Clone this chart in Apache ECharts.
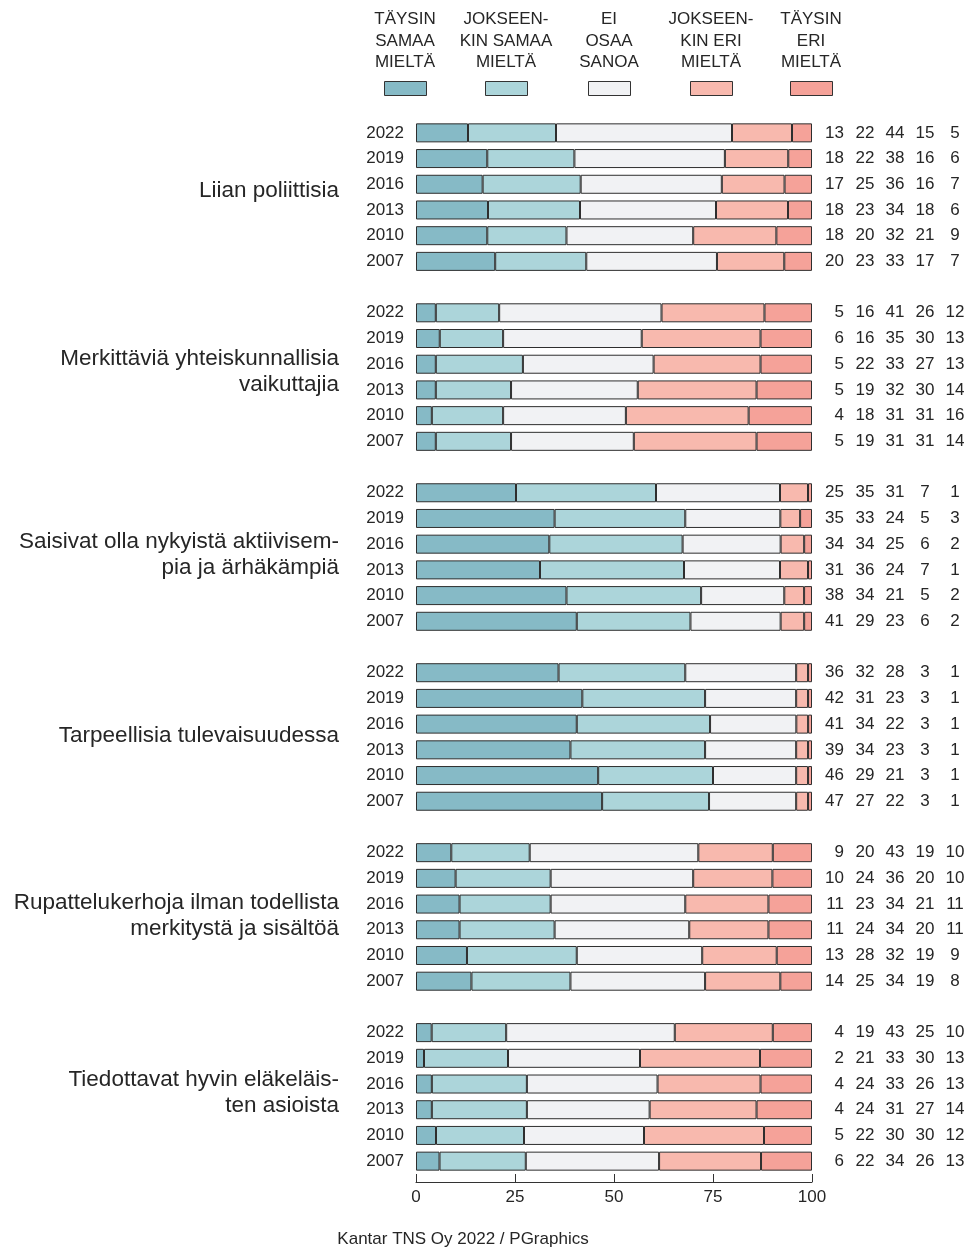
<!DOCTYPE html>
<html>
<head>
<meta charset="utf-8">
<script src="https://cdn.jsdelivr.net/npm/echarts@6/dist/echarts.min.js"></script>
<style>
  html, body { margin: 0; padding: 0; background: #fff; }
  #chart { width: 972px; height: 1248px; }
</style>
</head>
<body>
<div id="chart"></div>
<script>
// väittämät (ryhmät) ja vuodet
const groups = [
  'Liian poliittisia',
  'Merkittäviä yhteiskunnallisia\nvaikuttajia',
  'Saisivat olla nykyistä aktiivisem-\npia ja ärhäkämpiä',
  'Tarpeellisia tulevaisuudessa',
  'Rupattelukerhoja ilman todellista\nmerkitystä ja sisältöä',
  'Tiedottavat hyvin eläkeläis-\nten asioista'
]
const years = ['2022', '2019', '2016', '2013', '2010', '2007']
const answerLabels = [
  'TÄYSIN\nSAMAA\nMIELTÄ',
  'JOKSEEN-\nKIN SAMAA\nMIELTÄ',
  'EI\nOSAA\nSANOA',
  'JOKSEEN-\nKIN ERI\nMIELTÄ',
  'TÄYSIN\nERI\nMIELTÄ'
]
const xTicks = [0, 25, 50, 75, 100]

// prosentit, ryhmä kerrallaan (2022 ... 2007)
const taysinSamaa = [
  13, 18, 17, 18, 18, 20,
  5, 6, 5, 5, 4, 5,
  25, 35, 34, 31, 38, 41,
  36, 42, 41, 39, 46, 47,
  9, 10, 11, 11, 13, 14,
  4, 2, 4, 4, 5, 6
]
const jokseenkinSamaa = [
  22, 22, 25, 23, 20, 23,
  16, 16, 22, 19, 18, 19,
  35, 33, 34, 36, 34, 29,
  32, 31, 34, 34, 29, 27,
  20, 24, 23, 24, 28, 25,
  19, 21, 24, 24, 22, 22
]
const eiOsaa = [
  44, 38, 36, 34, 32, 33,
  41, 35, 33, 32, 31, 31,
  31, 24, 25, 24, 21, 23,
  28, 23, 22, 23, 21, 22,
  43, 36, 34, 34, 32, 34,
  43, 33, 33, 31, 30, 34
]
const jokseenkinEri = [
  15, 16, 16, 18, 21, 17,
  26, 30, 27, 30, 31, 31,
  7, 5, 6, 7, 5, 6,
  3, 3, 3, 3, 3, 3,
  19, 20, 21, 20, 19, 19,
  25, 30, 26, 27, 30, 26
]
const taysinEri = [
  5, 6, 7, 6, 9, 7,
  12, 13, 13, 14, 16, 14,
  1, 3, 2, 1, 2, 2,
  1, 1, 1, 1, 1, 1,
  10, 10, 11, 11, 9, 8,
  10, 13, 13, 14, 12, 13
]

const columns = [taysinSamaa, jokseenkinSamaa, eiOsaa, jokseenkinEri, taysinEri]
const colors = ['#86bac6', '#acd5da', '#f1f2f4', '#f8b9ae', '#f5a299']
const FONT = '"Liberation Sans", Arial, sans-serif'
const TEXT = '#262626'

// rivit: 6 vuotta per ryhmä, tyhjä rivi ryhmien välissä
const rows = []
groups.forEach((g, gi) => {
  if (gi > 0) rows.push(null)
  years.forEach((y, yi) => rows.push({ group: gi, year: y, idx: gi * 6 + yi }))
})
const rowKeys = rows.map((r, i) => 'r' + i)
const rowSum = idx => columns.reduce((s, c) => s + c[idx], 0)

const series = columns.map((col, k) => ({
  name: answerLabels[k].replace(/\n/g, ' '),
  type: 'bar',
  stack: 'total',
  barWidth: 19,
  yAxisIndex: 0,
  itemStyle: { color: colors[k], borderColor: '#2e2e2e', borderWidth: 1 },
  emphasis: { disabled: true },
  data: rows.map(r => r ? col[r.idx] / rowSum(r.idx) * 100 : '-')
}))

const baseY = {
  type: 'category',
  data: rowKeys,
  inverse: true,
  axisLine: { show: false },
  axisTick: { show: false },
  splitLine: { show: false }
}

// numerosarakkeet oikealla
const numMargins = [32, 53, 83, 113, 143]
const numAxes = columns.map((col, k) => Object.assign({}, baseY, {
  position: 'right',
  axisLabel: {
    interval: 0,
    margin: numMargins[k],
    align: k === 0 ? 'right' : 'center',
    fontSize: 17,
    fontFamily: FONT,
    color: TEXT,
    formatter: (v, i) => rows[i] ? String(col[rows[i].idx]) : ''
  }
}))

// ryhmäotsikot: tyhjä välirivi siirtää tekstiä alaspäin
const groupShift = [14, 15, 22, 24, 23, 17]
const groupRich = { g: { fontSize: 22.5, lineHeight: 26, fontFamily: FONT, color: TEXT, align: 'right' } }
groupShift.forEach((h, i) => { groupRich['s' + i] = { fontSize: 1, lineHeight: h } })
const groupLabel = gi => '{s' + gi + '| }\n' + groups[gi].split('\n').map(l => '{g|' + l + '}').join('\n')

const legendX = [405, 506, 609, 711, 811]

const chart = echarts.init(document.getElementById('chart'))
chart.setOption({
  animation: false,
  backgroundColor: '#fff',
  grid: { left: 416, right: 160, top: 120, height: 1054 },
  legend: answerLabels.map((a, i) => ({
    data: [a.replace(/\n/g, ' ')],
    left: legendX[i] - 21,
    top: 81,
    padding: 0,
    icon: 'rect',
    itemWidth: 42,
    itemHeight: 14,
    selectedMode: false,
    formatter: () => '',
    itemStyle: { borderColor: '#333', borderWidth: 1 }
  })),
  xAxis: {
    type: 'value',
    min: xTicks[0],
    max: xTicks[xTicks.length - 1],
    interval: 25,
    offset: 8,
    axisLine: { show: true, lineStyle: { color: '#333', width: 1 } },
    axisTick: { show: true, inside: true, length: 8, lineStyle: { color: '#333' } },
    axisLabel: { fontSize: 17, fontFamily: FONT, color: TEXT, margin: 7 },
    splitLine: { show: false }
  },
  yAxis: [
    Object.assign({}, baseY, {
      position: 'left',
      axisLabel: {
        interval: 0, margin: 12, fontSize: 17, fontFamily: FONT, color: TEXT,
        formatter: (v, i) => rows[i] ? rows[i].year : ''
      }
    }),
    Object.assign({}, baseY, {
      position: 'left',
      axisLabel: {
        interval: 0, margin: 77, align: 'right',
        rich: groupRich,
        formatter: (v, i) => rows[i] && rows[i].year === years[2] ? groupLabel(rows[i].group) : ''
      }
    })
  ].concat(numAxes),
  graphic: answerLabels.map((a, i) => ({
    type: 'text',
    x: legendX[i],
    y: 9,
    style: {
      text: a, align: 'center', verticalAlign: 'top',
      font: '17px ' + FONT, lineHeight: 21.5, fill: TEXT
    }
  })).concat([{
    type: 'text',
    x: 463,
    y: 1239,
    style: {
      text: 'Kantar TNS Oy 2022 / PGraphics', align: 'center', verticalAlign: 'middle',
      font: '17px ' + FONT, fill: TEXT
    }
  }]),
  series: series
})
</script>
</body>
</html>
